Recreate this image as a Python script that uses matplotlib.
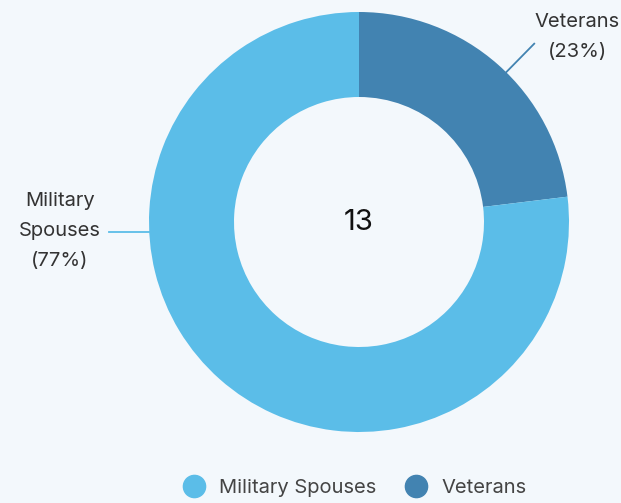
import numpy as np
import matplotlib.pyplot as plt
from matplotlib.lines import Line2D

# data
categories = ["Veterans", "Military Spouses"]
counts = [3, 10]
colors = ["#4283b1", "#5bbde8"]
total = sum(counts)

plt.rcParams['font.family'] = ['Inter', 'DejaVu Sans']
bg = "#f3f8fc"

W, H = 621, 503
fig = plt.figure(figsize=(W / 100, H / 100), dpi=100, facecolor=bg)
ax = fig.add_axes([0, 0, 1, 1])
ax.set_facecolor(bg)

cx, cy = 359, H - 222
rOut, rIn = 210, 125

wedges, _ = ax.pie(counts, colors=colors, startangle=90, counterclock=False,
                   center=(cx, cy), radius=rOut, frame=True,
                   wedgeprops=dict(width=rOut - rIn, linewidth=0))
ax.set_xlim(0, W)
ax.set_ylim(0, H)
ax.set_aspect("equal")
ax.axis("off")

ax.text(cx, cy, str(total), ha="center", va="center", fontsize=21, color="#111111")

# outside labels with leader lines
labelAngles = {"Veterans": 45.5, "Military Spouses": 182.7}
textPos = {"Veterans": (577, 37), "Military Spouses": (60, 231)}
for name, cnt, col in zip(categories, counts, colors):
    a = np.deg2rad(labelAngles[name])
    x0, y0 = cx + rOut * np.cos(a), cy + rOut * np.sin(a)
    if name == "Veterans":
        x1, y1 = cx + 250 * np.cos(a), cy + 250 * np.sin(a)
    else:
        x1, y1 = 109, y0
    ax.plot([x0, x1], [y0, y1], color=col, linewidth=1.3)
    pct = round(cnt / total * 100)
    words = name.replace(" ", "\n")
    tx, ty = textPos[name]
    ax.text(tx, H - ty, f"{words}\n({pct}%)", ha="center", va="center", fontsize=14.5,
            color="#333333", linespacing=1.85)

handles = [Line2D([], [], marker="o", linestyle="", markersize=16, color=colors[1]),
           Line2D([], [], marker="o", linestyle="", markersize=16, color=colors[0])]
fig.legend(handles, ["Military Spouses", "Veterans"], loc="center",
           bbox_to_anchor=(350 / W, 1 - 488 / H), ncol=2, frameon=False,
           fontsize=14.5, labelcolor="#444444", handletextpad=0.25, columnspacing=1.0)

fig.savefig("out.png", dpi=100, facecolor=bg)
